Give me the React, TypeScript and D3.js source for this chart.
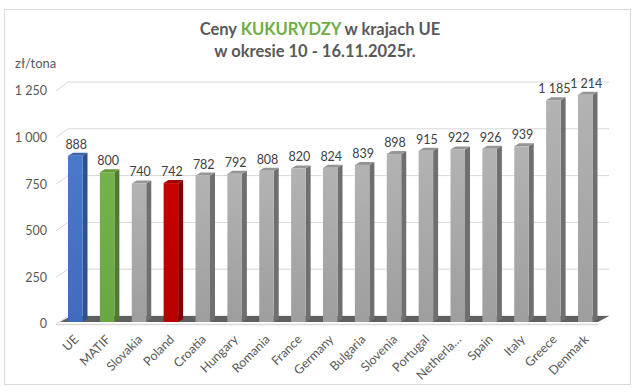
import React from 'react';
import * as d3 from 'd3';

const categories = ['UE', 'MATIF', 'Slovakia', 'Poland', 'Croatia', 'Hungary', 'Romania', 'France', 'Germany', 'Bulgaria', 'Slovenia', 'Portugal', 'Netherla…', 'Spain', 'Italy', 'Greece', 'Denmark'];
const values = [888, 800, 740, 742, 782, 792, 808, 820, 824, 839, 898, 915, 922, 926, 939, 1185, 1214];
const yTicks = [0, 250, 500, 750, 1000, 1250];
const highlight: Record<string, string> = { UE: 'blue', MATIF: 'green', Poland: 'red' };

const palette: Record<string, { front: string; side: string; top: string }> = {
  blue: { front: 'url(#gBlue)', side: '#2F528F', top: '#3A63AD' },
  green: { front: 'url(#gGreen)', side: '#4E7A31', top: '#62993D' },
  red: { front: 'url(#gRed)', side: '#850000', top: '#A50000' },
  gray: { front: 'url(#gGray)', side: '#6F6F6F', top: '#959595' },
};

const W = 638;
const H = 392;
const FONT = "Lato, 'Open Sans', 'Liberation Sans', sans-serif";

const locale = d3.formatLocale({ decimal: ',', thousands: '\u00a0', grouping: [3], currency: ['', ''] });
const fmt = locale.format(',d');

export default function App() {
  const step = 31.875;
  const x = d3.scaleBand<string>().domain(categories).range([59.6, 59.6 + step * categories.length]).padding(0);
  const barW = 14.5;
  const depthX = 5;
  const depthY = 3;
  const yBar = d3.scaleLinear().domain([0, 1250]).range([322, 88]);
  const yFront = d3.scaleLinear().domain([0, 1250]).range([324, 91]);
  const yBack = d3.scaleLinear().domain([0, 1250]).range([316, 82]);
  const gridLeft = 56;
  const backLeft = 68;
  const backRight = 609;

  return (
    <svg width={W} height={H} style={{ position: 'fixed', left: 0, top: 0, background: '#fff' }} fontFamily={FONT}>
      <defs>
        <linearGradient id="gGray" x1="0" y1="0" x2="0" y2="1">
          <stop offset="0" stopColor="#B3B3B3" />
          <stop offset="1" stopColor="#9E9E9E" />
        </linearGradient>
        <linearGradient id="gBlue" x1="0" y1="0" x2="0" y2="1">
          <stop offset="0" stopColor="#4A78CA" />
          <stop offset="1" stopColor="#3F6CBE" />
        </linearGradient>
        <linearGradient id="gGreen" x1="0" y1="0" x2="0" y2="1">
          <stop offset="0" stopColor="#75B24B" />
          <stop offset="1" stopColor="#6AA642" />
        </linearGradient>
        <linearGradient id="gRed" x1="0" y1="0" x2="0" y2="1">
          <stop offset="0" stopColor="#C80000" />
          <stop offset="1" stopColor="#B80000" />
        </linearGradient>
      </defs>
      <rect x={0} y={0} width={W} height={H} fill="#fff" />
      <rect x={4.5} y={9.5} width={626} height={375} fill="#fff" stroke="#D9D9D9" strokeWidth={1} />

      {/* Title */}
      <text x={320} y={35} textAnchor="middle" fontSize={16.5} fontWeight={700} fill="#595959">
        <tspan>Ceny </tspan>
        <tspan fill="#70AD47">KUKURYDZY</tspan>
        <tspan> w krajach UE</tspan>
      </text>
      <text x={315} y={57} textAnchor="middle" fontSize={16.5} fontWeight={700} fill="#595959">
        w okresie 10 - 16.11.2025r.
      </text>

      <text x={15} y={68} fontSize={13} fill="#595959">zł/tona</text>

      {/* gridlines */}
      {yTicks.map((t) => (
        <g key={t}>
          <polyline
            points={`${gridLeft},${yFront(t)} ${backLeft},${yBack(t)} ${backRight},${yBack(t)}`}
            fill="none"
            stroke="#D9D9D9"
            strokeWidth={1}
          />
          <text x={47} y={yFront(t)} dy="0.35em" textAnchor="end" fontSize={12.5} fill="#595959">
            {fmt(t)}
          </text>
        </g>
      ))}

      {/* floor */}
      <polygon
        points={`${gridLeft + 4},${yBar(0)} ${598},${yBar(0)} ${backRight},${yBack(0)} ${backLeft + 3},${yBack(0)}`}
        fill="#5F5F5F"
      />
      <line x1={gridLeft} y1={yFront(0) + 0.5} x2={598} y2={yFront(0) + 0.5} stroke="#D9D9D9" strokeWidth={1.5} />

      {/* bars */}
      {categories.map((c, i) => {
        const v = values[i];
        const pal = palette[highlight[c] || 'gray'];
        const x0 = (x(c) as number) + 8.4;
        const x1 = x0 + barW;
        const yt = yBar(v);
        const yb = yBar(0);
        return (
          <g key={c}>
            <polygon
              points={`${x1},${yt} ${x1 + depthX},${yt - depthY} ${x1 + depthX},${yb - depthY} ${x1},${yb}`}
              fill={pal.side}
            />
            <polygon
              points={`${x0},${yt} ${x0 + depthX},${yt - depthY} ${x1 + depthX},${yt - depthY} ${x1},${yt}`}
              fill={pal.top}
            />
            <rect x={x0} y={yt} width={barW} height={yb - yt} fill={pal.front} />
            <text x={x0 + barW / 2 + 1} y={yt - 7} textAnchor="middle" fontSize={12.5} fill="#404040">
              {fmt(v)}
            </text>
            <text
              transform={`translate(${x0 + barW / 2 + 1},${337}) rotate(-45)`}
              textAnchor="end"
              dominantBaseline="central"
              fontSize={12.5}
              fill="#595959"
            >
              {c}
            </text>
          </g>
        );
      })}
    </svg>
  );
}
